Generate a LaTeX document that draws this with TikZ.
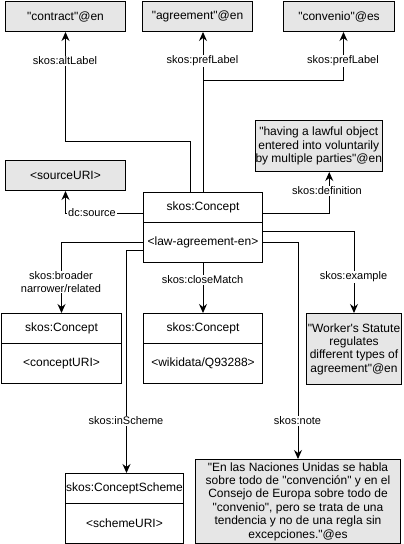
\documentclass[tikz,border=0pt]{standalone}
\usepackage{fontspec}
\setmainfont{Liberation Sans}[Ligatures=TeXOff]
\usetikzlibrary{arrows.meta,calc}
\definecolor{litgrey}{HTML}{E6E6E6}
\begin{document}
\begin{tikzpicture}[x=1pt,y=-1pt,
  box/.style={draw, line width=1pt, anchor=north west, inner sep=0pt, align=center,
    font=\fontsize{12}{13.4}\selectfont},
  lit/.style={box, fill=litgrey},
  lbl/.style={fill=white, inner sep=1pt, align=center, font=\fontsize{11}{12.6}\selectfont},
  con/.style={line width=1pt, -{Stealth[length=9pt,width=8pt,inset=3pt]}}]
\useasboundingbox (0,0) rectangle (404,544);
% boxes
\node[lit, minimum width=120, minimum height=30] (ct) at (5,1) {"contract"@en};
\node[lit, minimum width=110, minimum height=30] (ag) at (142,1) {"agreement"@en};
\node[lit, minimum width=111, minimum height=30] (cv) at (283,1) {"convenio"@es};
\node[lit, minimum width=123, minimum height=51] (df) at (255,120) {"having a lawful object\\entered into voluntarily\\by multiple parties"@en};
\node[lit, minimum width=120, minimum height=30] (su) at (5,160) {<sourceURI>};
\node[box, minimum width=119, minimum height=30] (c1) at (143,192) {skos:Concept};
\node[box, minimum width=119, minimum height=40] (c1b) at (143,222) {<law-agreement-en>};
\node[box, minimum width=120, minimum height=30] (c2) at (1,313) {skos:Concept};
\node[box, minimum width=120, minimum height=40] (c2b) at (1,343) {<conceptURI>};
\node[box, minimum width=119, minimum height=30] (c3) at (143,313) {skos:Concept};
\node[box, minimum width=119, minimum height=40] (c3b) at (143,343) {<wikidata/Q93288>};
\node[lit, minimum width=95, minimum height=71] (ex) at (306,313) {"Worker's Statute\\regulates\\different types of\\agreement"@en};
\node[box, minimum width=118, minimum height=30] (cs) at (65,473) {skos:ConceptScheme};
\node[box, minimum width=118, minimum height=40] (csb) at (65,503) {<schemeURI>};
\node[lit, minimum width=205, minimum height=84] (nt) at (195,459) {"En las Naciones Unidas se habla\\sobre todo de "convención" y en el\\Consejo de Europa sobre todo de\\"convenio", pero se trata de una\\tendencia y no de una regla sin\\excepciones."@es};
% connectors
\draw[con] ([xshift=-12.5pt]c1.north) -- ++(0,-51) -| (ct.south);
\draw[con] (c1.north) -- (c1.north |- ag.south);
\draw[con] (c1.north) -- ++(0,-112) -| ([xshift=4.5pt]cv.south);
\draw[con] ([yshift=-6pt]c1.west) -| (su.south);
\draw[con] ([yshift=-6pt]c1.east) -| ([xshift=10.5pt]df.south);
\draw[con] ([yshift=11pt]c1b.east) -| (ex.north);
\draw[con] (c1b.east) -| (nt.north);
\draw[con] (c1b.west) -| (c2.north);
\draw[con] ([yshift=-8pt]c1b.west) -| ([xshift=2pt]cs.north);
\draw[con] (c1b.south) -- (c3.north);
% labels
\node[lbl] (l1) at (65,61) {skos:altLabel};
\node[lbl] (l2) at (202.5,61) {skos:prefLabel};
\node[lbl] (l3) at (343,61) {skos:prefLabel};
\node[lbl] (l4) at (92,213) {dc:source};
\node[lbl] (l5) at (327,191) {skos:definition};
\node[lbl] (l6) at (353.5,277) {skos:example};
\node[lbl] (l7) at (297.5,421) {skos:note};
\node[lbl] (l8) at (61,282) {skos:broader\\narrower/related};
\node[lbl] (l9) at (126,421) {skos:inScheme};
\node[lbl] (l10) at (202.5,280) {skos:closeMatch};
\end{tikzpicture}
\end{document}
